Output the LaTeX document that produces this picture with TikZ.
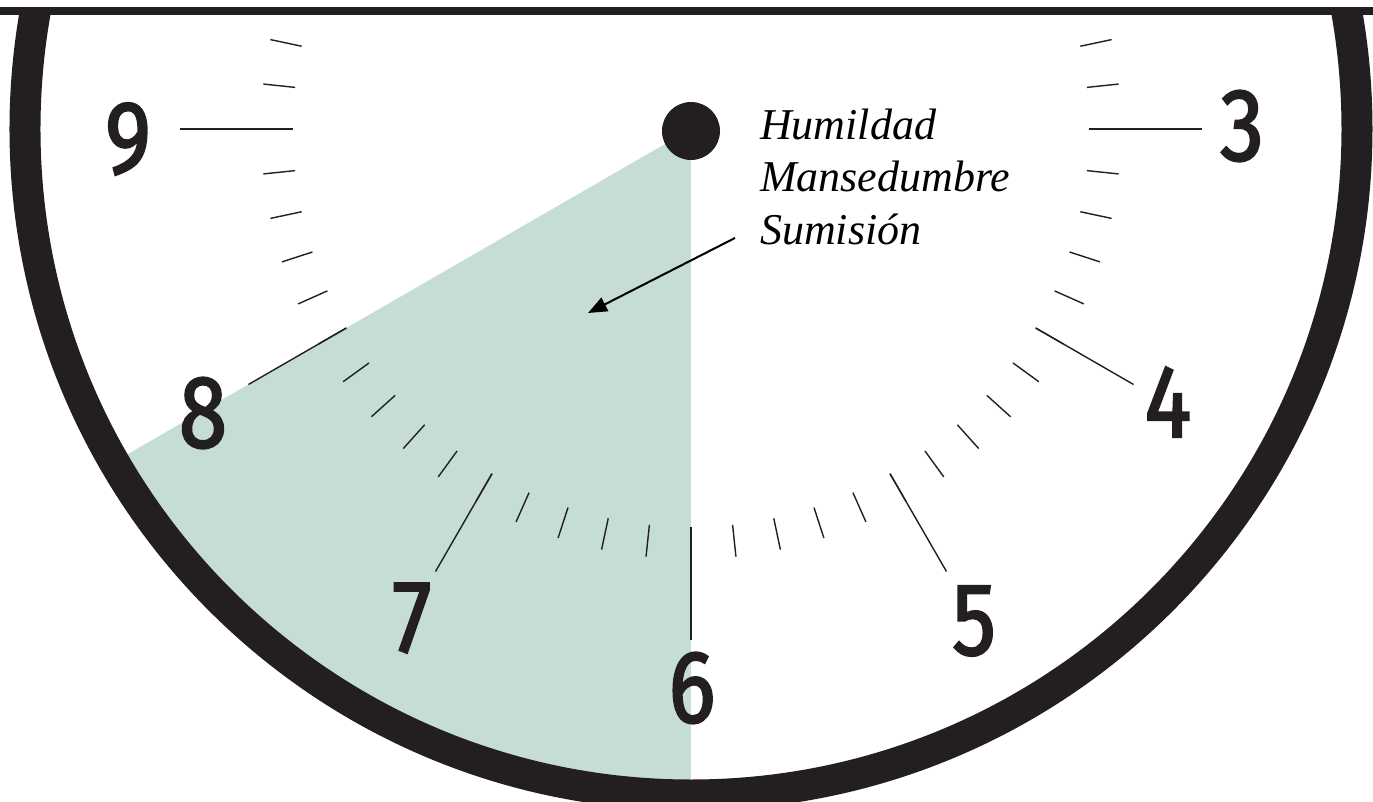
\documentclass[tikz,border=0pt]{standalone}
\usepackage{fontspec}
\usepackage{xcolor}
\usetikzlibrary{arrows.meta}
\newfontfamily\digitfont{Fira Sans}[FakeStretch=0.85,FakeBold=2]
\newfontfamily\notefont{Liberation Serif}
\definecolor{ink}{HTML}{231f20}
\definecolor{mint}{HTML}{c5ddd2}

\tikzset{
  numeral/.style={inner sep=0pt,anchor=center,text=ink,
    font=\digitfont\fontsize{103}{103}\selectfont},
  minortick/.style={ink,line width=1.4pt},
  note/.style={inner sep=0pt,anchor=base west,text=black,
    font=\notefont\itshape\fontsize{44}{52}\selectfont},
  pointer/.style={black,line width=2pt,-{Triangle[length=19pt,width=15pt]}}
}

\begin{document}
\begin{tikzpicture}[x=1pt,y=1pt]

  % Page frame, origin at the clock centre
  \useasboundingbox (-691,-673) rectangle (682,129);
  \fill[white] (-691,-673) rectangle (682,129);

  % ---------------------------------------------------------------- SECTOR (six to eight)
  \fill[mint] (0,0) -- (-90:670) arc[start angle=-90,end angle=-150,radius=670] -- cycle;

  % ---------------------------------------------------------------- DIAL
  \begin{scope}
    \clip (-691,-673) rectangle (682,118);
    \draw[ink,line width=31pt] (0,0) circle (666);
    % minute marks
    \foreach \a in {12,6,...,-192} {
      \draw[minortick] (\a:398) -- (\a:430);
    }
    % hour marks
    \foreach \a in {0,-30,...,-180} {
      \draw[minortick] (\a:398) -- (\a:511);
    }
  \end{scope}

  % top rule
  \fill[ink] (-691,114) rectangle (682,122);

  % centre boss
  \fill[ink] (0,-2) circle (29);

  % ---------------------------------------------------------------- NUMERALS
  \node[numeral] (n9) at (-563,-10) {9};
  \node[numeral] (n8) at (-488,-284) {8};
  \node[numeral] (n7) at (-279,-489) {7};
  \node[numeral] (n6) at (1,-559) {6};
  \node[numeral] (n5) at (283,-492) {5};
  \node[numeral] (n4) at (477,-273) {4};
  \node[numeral] (n3) at (551,3) {3};

  % ---------------------------------------------------------------- NOTE
  \node[note] (hum) at (69,-11) {Humildad};
  \node[note] (man) at (69,-63) {Mansedumbre};
  \node[note] (sum) at (69,-116) {Sumisión};
  \coordinate (spot) at (-103,-184);
  \draw[pointer] ([shift={(-25,-8)}]sum.west) -- (spot);

\end{tikzpicture}
\end{document}
